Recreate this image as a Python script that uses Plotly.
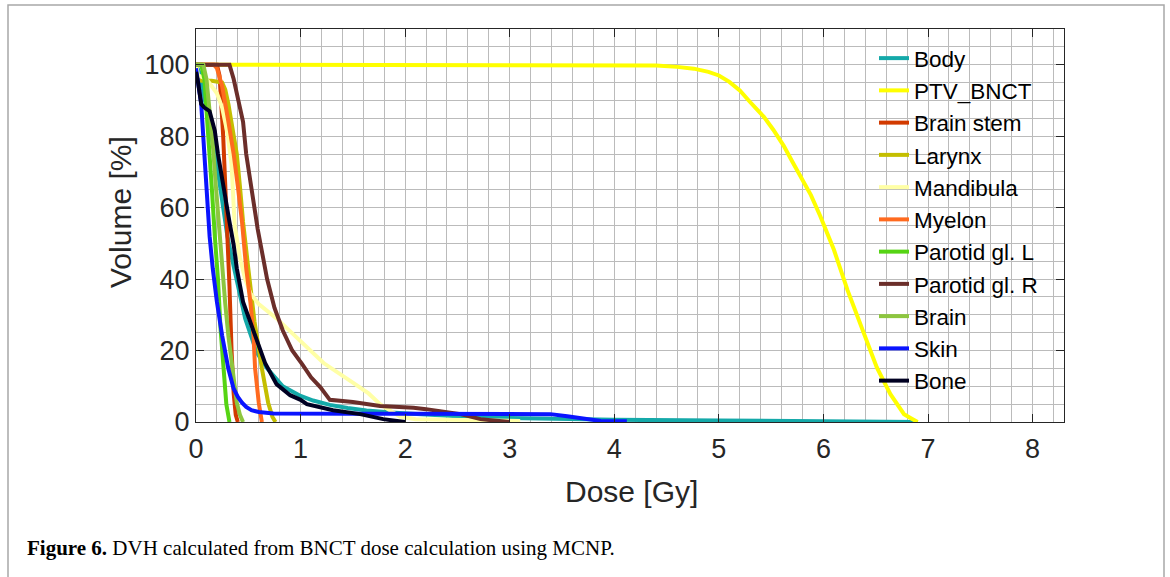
import plotly.graph_objects as go

# ---- data ----
names = ["Body", "PTV_BNCT", "Brain stem", "Larynx", "Mandibula", "Myelon",
         "Parotid gl. L", "Parotid gl. R", "Brain", "Skin", "Bone"]
colors = ["#14A9A9", "#FFFF00", "#D23A00", "#C4BE00", "#FFFFA6", "#FF6A1F",
          "#56D414", "#6B2E2A", "#8DC63F", "#0A14FF", "#000022"]

body_dose = [0, 0.03, 0.06, 0.1, 0.15, 0.2, 0.25, 0.3, 0.35, 0.4, 0.47, 0.58, 0.68, 0.83, 1.0, 1.12,
             1.28, 1.45, 1.63, 1.9, 2.2, 2.5, 3.0, 3.5, 4.0, 5.0, 6.0, 6.8, 6.9]
body_vol = [100, 98, 94, 88, 80, 72, 62, 52, 45, 38, 29, 19.5, 15, 10, 7.3, 6,
            4.8, 3.9, 3.2, 2.6, 2.0, 1.6, 1.1, 0.8, 0.6, 0.45, 0.35, 0.15, 0]

ptv_dose = [0, 1, 2, 3, 4, 4.4, 4.6, 4.76, 4.9, 5.0, 5.1, 5.2, 5.3, 5.43, 5.52, 5.62, 5.7, 5.78,
            5.88, 5.97, 6.1, 6.23, 6.39, 6.51, 6.64, 6.72, 6.77, 6.84, 6.9]
ptv_vol = [100, 100, 100, 100, 100, 99.8, 99.4, 98.9, 98.0, 97.0, 95.2, 92.8, 89.5, 85.4, 81.8, 77.3,
           73.0, 68.8, 63.5, 57.6, 48.2, 36.9, 24.7, 15.3, 7.8, 4.5, 2.2, 1.0, 0]

stem_dose = [0, 0.2, 0.225, 0.24, 0.26, 0.28, 0.3, 0.32, 0.34, 0.36, 0.38, 0.4]
stem_vol = [100, 100, 97, 91, 80, 66, 54, 38, 20, 8, 2, 0]

larynx_dose = [0, 0.02, 0.05, 0.15, 0.25, 0.28, 0.31, 0.34, 0.39, 0.42, 0.45, 0.5, 0.56, 0.63,
               0.69, 0.73, 0.76]
larynx_vol = [100, 96, 95.5, 95.5, 95, 93, 89, 84, 75, 66, 56, 43, 28, 15, 5.4, 1.5, 0]

mand_dose = [0, 0.02, 0.1, 0.2, 0.25, 0.3, 0.34, 0.37, 0.42, 0.47, 0.52, 0.6, 0.77, 1.0, 1.22,
             1.5, 1.65, 1.76, 1.86, 1.95, 2.1, 2.5, 3.1]
mand_vol = [100, 97, 96, 92, 88, 81, 72, 55, 46, 40, 36, 33, 29, 22.5, 16.5, 11, 8, 5, 3, 1.5,
            0.8, 0.5, 0.3]

myelon_dose = [0, 0.17, 0.2, 0.25, 0.31, 0.36, 0.4, 0.44, 0.48, 0.52, 0.55, 0.565, 0.6, 0.63]
myelon_vol = [100, 100, 99, 94, 84, 75, 66, 56, 43, 33.6, 24, 15, 5.4, 0]

parl_dose = [0, 0.05, 0.08, 0.1, 0.12, 0.15, 0.18, 0.21, 0.235, 0.26, 0.29, 0.32]
parl_vol = [100, 100, 96, 88, 80, 66, 52, 40, 26, 15, 5, 0]

parr_dose = [0, 0.32, 0.36, 0.42, 0.45, 0.48, 0.53, 0.59, 0.68, 0.75, 0.83, 0.92, 1.02, 1.1,
             1.19, 1.28, 1.5, 1.76, 2.08, 2.2, 2.53, 2.72, 3.0]
parr_vol = [100, 100, 96, 88, 84, 75, 66, 54, 40, 32, 25.6, 20, 16, 12.5, 9.7, 6.2, 5.6, 4.5,
            4.0, 3.6, 2.2, 0.8, 0]

brain_dose = [0, 0.07, 0.1, 0.13, 0.16, 0.19, 0.22, 0.25, 0.28, 0.31, 0.35, 0.39, 0.42, 0.45]
brain_vol = [100, 100, 96, 88, 78, 66, 54, 43, 33, 24, 14, 5.4, 2, 0]

skin_dose = [0, 0.02, 0.05, 0.08, 0.1, 0.13, 0.16, 0.2, 0.25, 0.31, 0.36, 0.4, 0.44, 0.48, 0.53,
             0.6, 0.74, 1.0, 1.5, 2.0, 2.5, 3.0, 3.39, 3.55, 3.7, 3.87, 4.12]
skin_vol = [99, 95, 89, 75, 66, 52, 43, 33.6, 24.2, 14.8, 9.3, 7, 5.4, 4.2, 3.3, 2.8, 2.4, 2.3,
            2.3, 2.3, 2.3, 2.3, 2.2, 1.6, 0.9, 0.3, 0.2]

bone_dose = [0, 0.02, 0.05, 0.08, 0.13, 0.18, 0.21, 0.26, 0.32, 0.36, 0.39, 0.45, 0.56, 0.66,
             0.77, 0.9, 1.0, 1.06, 1.31, 1.57, 1.79, 2.0]
bone_vol = [98, 95, 89, 88, 87, 81.5, 75, 65.6, 56, 49.6, 43, 33.6, 24.2, 16.5, 10.6, 7.5, 6.2,
            5.0, 3.3, 2.2, 0.8, 0]

x_ticks = [0, 1, 2, 3, 4, 5, 6, 7, 8]
y_ticks = [0, 20, 40, 60, 80, 100]

doses = [body_dose, ptv_dose, stem_dose, larynx_dose, mand_dose, myelon_dose,
         parl_dose, parr_dose, brain_dose, skin_dose, bone_dose]
vols = [body_vol, ptv_vol, stem_vol, larynx_vol, mand_vol, myelon_vol,
        parl_vol, parr_vol, brain_vol, skin_vol, bone_vol]

fig = go.Figure()
for n, d, v, c in zip(names, doses, vols, colors):
    fig.add_trace(go.Scatter(x=d, y=v, mode="lines", name=n,
                             line=dict(color=c, width=4)))

W, H = 1170, 577
L, R, T, B = 196, 106, 29, 155
pw, ph = W - L - R, H - T - B

def px2paper_x(px):
    return (px - L) / pw

def py2paper_y(py):
    return (H - B - py) / ph

grid_c = "#BBBBBB"
axis_c = "#262626"
sans = "Liberation Sans, Arial, sans-serif"
tick_font = dict(family=sans, size=27, color=axis_c)
title_font = dict(family=sans, size=30, color=axis_c)

fig.update_layout(
    width=W, height=H,
    margin=dict(l=L, r=R, t=T, b=B, pad=0),
    paper_bgcolor="white", plot_bgcolor="white",
    showlegend=True,
    legend=dict(x=px2paper_x(874), y=py2paper_y(37), xanchor="left", yanchor="top",
                bgcolor="rgba(0,0,0,0)", borderwidth=0,
                font=dict(family=sans, size=22.5, color="#000000"),
                traceorder="normal", itemwidth=30),
    xaxis=dict(range=[0, 8.3], tickvals=x_ticks, ticks="inside", ticklen=8, tickwidth=1,
               tickcolor=axis_c, showline=True, linecolor=axis_c, linewidth=1, mirror="ticks",
               showgrid=True, gridcolor=grid_c, gridwidth=1, zeroline=False,
               minor=dict(dtick=0.2, showgrid=True, gridcolor=grid_c, gridwidth=1),
               tickfont=tick_font, ticklabelstandoff=3),
    yaxis=dict(range=[0, 110], tickvals=y_ticks, ticks="inside", ticklen=8, tickwidth=1,
               tickcolor=axis_c, showline=True, linecolor=axis_c, linewidth=1, mirror="ticks",
               showgrid=True, gridcolor=grid_c, gridwidth=1, zeroline=False,
               minor=dict(dtick=5, showgrid=True, gridcolor=grid_c, gridwidth=1),
               tickfont=tick_font, ticklabelstandoff=0),
    shapes=[dict(type="rect", xref="paper", yref="paper",
                 x0=px2paper_x(8), x1=px2paper_x(1164),
                 y0=py2paper_y(600), y1=py2paper_y(5),
                 line=dict(color="#A8A8A8", width=1.5), fillcolor="rgba(0,0,0,0)", layer="below")],
    annotations=[
        dict(xref="paper", yref="paper", x=px2paper_x(631), y=py2paper_y(492),
             xanchor="center", yanchor="middle", showarrow=False,
             text="Dose [Gy]", font=title_font),
        dict(xref="paper", yref="paper", x=px2paper_x(120), y=py2paper_y(212),
             xanchor="center", yanchor="middle", showarrow=False, textangle=-90,
             text="Volume [%]", font=title_font),
        dict(xref="paper", yref="paper", x=px2paper_x(25), y=py2paper_y(548),
             xanchor="left", yanchor="middle", showarrow=False,
             text="<b>Figure 6.</b> DVH calculated from BNCT dose calculation using MCNP.",
             font=dict(family="Liberation Serif, Times New Roman, serif", size=21,
                       color="#000000")),
    ],
)

fig.write_html("out.html", config={"displayModeBar": False},
               post_script="document.body.style.margin='0';")
